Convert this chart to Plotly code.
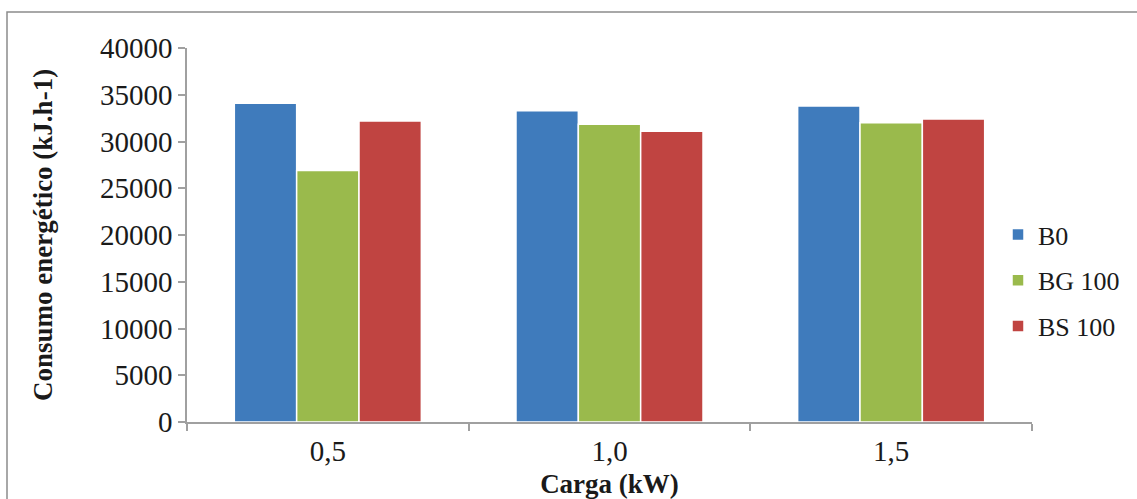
import plotly.graph_objects as go

categories = ["0,5", "1,0", "1,5"]
b0 = [34100, 33300, 33800]
bg100 = [26900, 31850, 32000]
bs100 = [32200, 31100, 32400]
series_names = ["B0", "BG 100", "BS 100"]
colors = ["#3F7BBC", "#9ABA4C", "#C04441"]
y_ticks = [0, 5000, 10000, 15000, 20000, 25000, 30000, 35000, 40000]

FONT = "Liberation Serif"

fig = go.Figure()
for i, (name, vals) in enumerate(zip(series_names, [b0, bg100, bs100])):
    fig.add_trace(go.Bar(
        x=categories, y=vals, name=name, legendgroup=name,
        marker=dict(color=colors[i], line=dict(color="white", width=1.5)),
    ))

W, H = 1137, 499
L, R, T, B = 187, 1032, 48, 422
pw, ph = R - L, B - T

def px(x):
    return (x - L) / pw

def py(y):
    return (B - y) / ph

fig.update_layout(
    width=W, height=H,
    margin=dict(l=L, r=W - R, t=T, b=H - B, pad=0, autoexpand=False),
    paper_bgcolor="white", plot_bgcolor="white",
    barmode="group", bargap=0.336, bargroupgap=0.0,
    font=dict(family=FONT, size=26, color="#1a1a1a"),
    showlegend=True,
    legend=dict(
        x=px(998), y=py(211), xanchor="left", yanchor="top",
        font=dict(family=FONT, size=26, color="#1a1a1a"),
        bgcolor="rgba(0,0,0,0)", tracegroupgap=9, itemwidth=30,
        traceorder="grouped",
    ),
    xaxis=dict(
        type="category", showline=True, linecolor="#A0A0A0", linewidth=1.5,
        ticks="outside", tickson="boundaries", ticklen=7, tickcolor="#A0A0A0",
        tickwidth=1.5, showgrid=False, zeroline=False, automargin=False,
        tickfont=dict(family=FONT, size=29), ticklabelstandoff=2,
        title=dict(text="<b>Carga (kW)</b>", font=dict(family=FONT, size=27), standoff=10),
        mirror=False,
    ),
    yaxis=dict(
        range=[0, 40000], tickvals=y_ticks, ticktext=[str(v) for v in y_ticks],
        showline=True, linecolor="#A0A0A0", linewidth=1.5,
        ticks="outside", ticklen=7, tickcolor="#A0A0A0", tickwidth=1.5,
        showgrid=False, zeroline=False, automargin=False,
        tickfont=dict(family=FONT, size=29),
        title=dict(text="<b>Consumo energético (kJ.h-1)</b>", font=dict(family=FONT, size=27), standoff=40),
    ),
    shapes=[dict(
        type="rect", xref="paper", yref="paper",
        x0=px(7), x1=px(1145), y0=py(505), y1=py(12),
        line=dict(color="#8C8C8C", width=1.5), fillcolor="rgba(0,0,0,0)", layer="below",
    )],
)

fig.write_html("out.html")
